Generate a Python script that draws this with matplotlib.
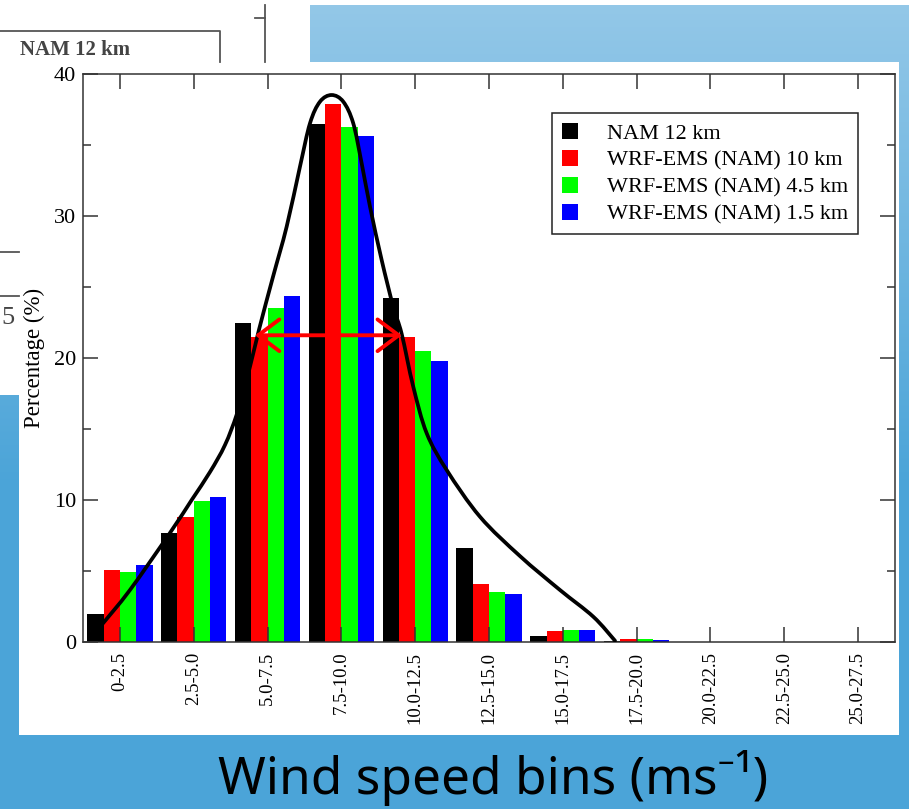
import matplotlib
matplotlib.use('Agg')
import matplotlib.pyplot as plt
import numpy as np
from matplotlib.patches import Rectangle, PathPatch
from matplotlib.lines import Line2D
from matplotlib.path import Path

# wind speed bins and percentages per model run
bins = ['0-2.5', '2.5-5.0', '5.0-7.5', '7.5-10.0', '10.0-12.5', '12.5-15.0',
        '15.0-17.5', '17.5-20.0', '20.0-22.5', '22.5-25.0', '25.0-27.5']
nam_12 = [2.0, 7.7, 22.5, 36.5, 24.2, 6.6, 0.45, 0.05, 0, 0, 0]
wrf_10 = [5.1, 8.8, 21.5, 37.9, 21.5, 4.1, 0.8, 0.2, 0, 0, 0]
wrf_45 = [4.9, 9.9, 23.5, 36.3, 20.5, 3.5, 0.85, 0.2, 0, 0, 0]
wrf_15 = [5.4, 10.2, 24.4, 35.6, 19.8, 3.4, 0.85, 0.15, 0, 0, 0]
series = [('NAM 12 km', nam_12, '#000000'),
          ('WRF-EMS (NAM) 10 km', wrf_10, '#ff0000'),
          ('WRF-EMS (NAM) 4.5 km', wrf_45, '#00ff00'),
          ('WRF-EMS (NAM) 1.5 km', wrf_15, '#0000ff')]

# hand drawn envelope curve (bin index units, percent)
curve_x = [0.752, 1.136, 1.678, 1.972, 2.220, 2.423, 2.585, 2.734, 2.883, 3.073,
           3.259, 3.439, 3.575, 3.710, 3.868, 4.026, 4.161, 4.275, 4.388, 4.546,
           4.703, 4.817, 4.974, 5.156, 5.427, 5.878, 6.420, 6.962, 7.413, 7.707]
curve_y = [1.20, 3.66, 7.68, 10.0, 11.97, 13.87, 16.06, 18.80, 21.97, 25.70,
           29.25, 33.47, 36.53, 38.05, 38.52, 38.05, 36.53, 33.71, 30.66, 26.90,
           23.61, 21.70, 17.98, 14.70, 12.11, 8.82, 6.05, 3.66, 1.78, 0.09]
# red width arrow
arrow_x = [2.83, 4.82]
arrow_y = 21.6


def smooth_path(xs, ys):
    # bezier path through the read points (catmull-rom tangents)
    p = np.column_stack([xs, ys])
    n = len(p)
    verts = [p[0]]
    codes = [Path.MOVETO]
    for i in range(n - 1):
        a = p[max(i - 1, 0)]
        b, c = p[i], p[i + 1]
        d = p[min(i + 2, n - 1)]
        verts += [b + (c - a) / 6, c - (d - b) / 6, c]
        codes += [Path.CURVE4] * 3
    return Path(verts, codes)


W, H = 909, 809
fig = plt.figure(figsize=(W / 100, H / 100), dpi=100)

# slide background
bg = fig.add_axes([0, 0, 1, 1])
bg.set_xlim(0, W)
bg.set_ylim(H, 0)
bg.axis('off')
top = np.array([0x94, 0xc8, 0xe8]) / 255
bot = np.array([0x4b, 0xa4, 0xd8]) / 255
t = np.clip(np.linspace(0, 1, H) / 0.6, 0, 1)[:, None]
grad = (top * (1 - t) + bot * t)[:, None, :]
bg.imshow(grad, extent=[0, W, H, 0], aspect='auto')
for (x, y, w, h) in [(0, 0, W, 5), (0, 0, 310, 62), (0, 0, 19, 395), (19, 62, 880, 673)]:
    bg.add_patch(Rectangle((x, y), w, h, color='white', lw=0))
# pieces of the chart underneath
old = dict(color='#555555', lw=1.3)
bg.add_line(Line2D([0, 220, 220], [31, 31, 62], **old))
bg.add_line(Line2D([265, 265], [5, 62], **old))
bg.add_line(Line2D([255, 265], [18, 18], **old))
bg.add_line(Line2D([0, 19], [252, 252], **old))
bg.add_line(Line2D([0, 19], [296, 296], **old))
bg.text(20, 50, 'NAM 12 km', family='Liberation Serif', fontsize=15, color='#444444',
        va='center', ha='left', weight='bold')
bg.text(1, 318, '5', family='Liberation Serif', fontsize=19, color='#444444',
        va='center', ha='left')
bg.text(493, 778, 'Wind speed bins (ms\u207b\u00b9)', family=['Noto Sans', 'DejaVu Sans'],
        fontsize=37, color='black', ha='center', va='center')

# main chart
ax = fig.add_axes([83 / W, 1 - 642 / H, 812 / W, 568 / H])
pos = np.arange(1, len(bins) + 1)
bw = 0.221
for i, (name, vals, col) in enumerate(series):
    ax.bar(pos + (i - 1.5) * bw, vals, width=bw, color=col, label=name, lw=0)

ax.add_patch(PathPatch(smooth_path(curve_x, curve_y), fill=False, edgecolor='black',
                       lw=2.7, capstyle='round', zorder=4))
ax.annotate('', xy=(arrow_x[0], arrow_y), xytext=(arrow_x[1], arrow_y),
            arrowprops=dict(arrowstyle='<->,head_length=0.4,head_width=0.3',
                            color='#ff0000', lw=2.8, mutation_scale=38,
                            shrinkA=0, shrinkB=0), zorder=5)

ax.set_xlim(0.5, 11.5)
ax.set_ylim(0, 40)
ax.set_xticks(pos)
ax.set_xticklabels(bins, rotation=90, family='Liberation Serif', fontsize=13.5)
ax.set_yticks([0, 10, 20, 30, 40])
ax.set_yticks([5, 15, 25, 35], minor=True)
for lab in ax.get_yticklabels():
    lab.set_family('Liberation Serif')
    lab.set_fontsize(16)
ax.tick_params(which='both', direction='in', top=True, right=True,
               color='#333333', width=1.1)
ax.tick_params(which='major', length=11)
ax.tick_params(which='minor', length=6)
ax.tick_params(axis='x', pad=7)
ax.tick_params(axis='y', pad=5)
for s in ax.spines.values():
    s.set_color('#333333')
    s.set_linewidth(1.1)
ax.set_ylabel('Percentage (%)', family='Liberation Serif', fontsize=16.5, labelpad=6)

leg = ax.legend(loc='upper right', bbox_to_anchor=(0.9544, 0.9313),
                prop=dict(family='Liberation Serif', size=16),
                handlelength=0.72, handleheight=0.72, handletextpad=1.3,
                labelspacing=0.28, borderpad=0.45, borderaxespad=0,
                fancybox=False, framealpha=1)
leg.get_frame().set_edgecolor('#222222')
leg.get_frame().set_linewidth(1.1)

fig.savefig('out.png', dpi=100)
